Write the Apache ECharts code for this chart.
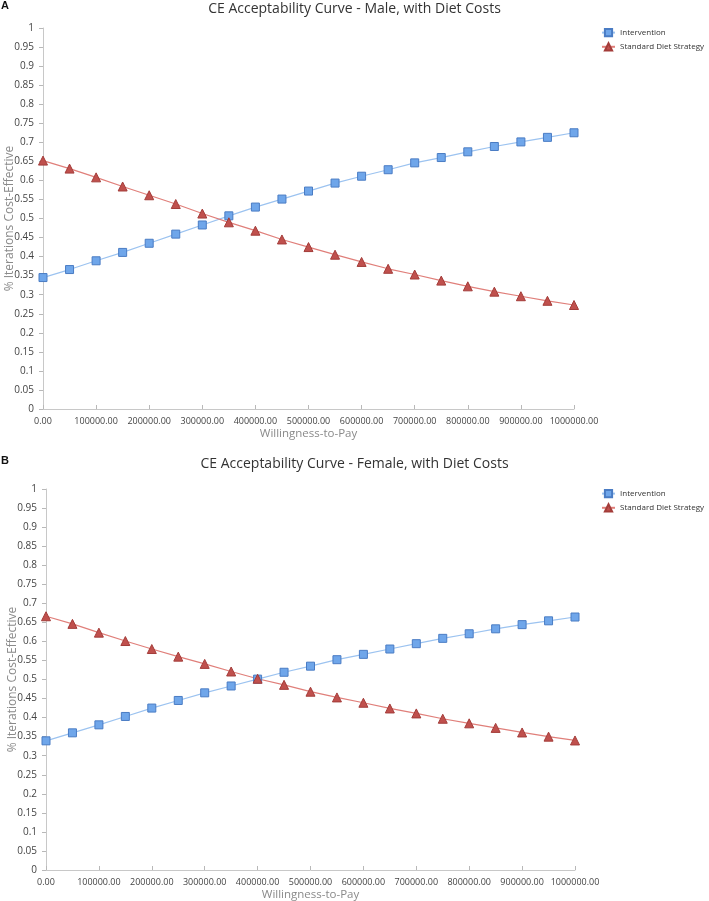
<!DOCTYPE html>
<html><head><meta charset="utf-8">
<script src="https://cdn.jsdelivr.net/npm/echarts@6/dist/echarts.min.js"></script>
<style>html,body{margin:0;padding:0;background:#fff}#c{width:709px;height:901px}</style>
</head><body><div id="c"></div>
<script>
const wtp = [0,50000,100000,150000,200000,250000,300000,350000,400000,450000,500000,550000,600000,650000,700000,750000,800000,850000,900000,950000,1000000];
const xTickLabels = ['0.00','100000.00','200000.00','300000.00','400000.00','500000.00','600000.00','700000.00','800000.00','900000.00','1000000.00'];
const yTickLabels = ['0','0.05','0.1','0.15','0.2','0.25','0.3','0.35','0.4','0.45','0.5','0.55','0.6','0.65','0.7','0.75','0.8','0.85','0.9','0.95','1'];
const seriesNames = ['Intervention','Standard Diet Strategy'];
const titles = ['CE Acceptability Curve - Male, with Diet Costs','CE Acceptability Curve - Female, with Diet Costs'];
const panelLetters = ['A','B'];
const maleIntervention = [0.345,0.366,0.389,0.411,0.435,0.459,0.483,0.507,0.530,0.551,0.572,0.593,0.611,0.628,0.646,0.660,0.675,0.689,0.701,0.713,0.725];
const maleStandard = [0.652,0.631,0.608,0.584,0.561,0.538,0.513,0.490,0.468,0.445,0.425,0.405,0.386,0.368,0.353,0.337,0.322,0.308,0.296,0.284,0.273];
const femaleIntervention = [0.339,0.360,0.381,0.403,0.425,0.445,0.465,0.483,0.501,0.519,0.535,0.552,0.566,0.580,0.594,0.608,0.620,0.633,0.644,0.654,0.664];
const femaleStandard = [0.666,0.646,0.623,0.601,0.580,0.560,0.541,0.521,0.502,0.486,0.468,0.453,0.439,0.424,0.411,0.397,0.385,0.373,0.361,0.350,0.340];

const FONT = 'Open Sans';
const chart = echarts.init(document.getElementById('c'), null, {renderer:'canvas'});
const pair = (xs, ys) => xs.map((x,i)=>[x, ys[i]]);

const grids = [
  {left:43, top:28, width:531, height:381, outerBoundsMode:'none', containLabel:false},
  {left:46, top:489, width:529, height:381, outerBoundsMode:'none', containLabel:false}
];
function xAxis(i){
  return {gridIndex:i, type:'value', min:0, max:1000000, interval:100000, offset:4,
    name:'Willingness-to-Pay', nameLocation:'middle', nameGap:15, nameMoveOverlap:false,
    nameTextStyle:{color:'#8a8a8a', fontSize:11.5, fontFamily:FONT},
    axisLine:{show:true, lineStyle:{color:'#c8c8c8', width:1}},
    axisTick:{show:true, inside:true, length:4, lineStyle:{color:'#b8b8b8'}},
    axisLabel:{color:'#444', fontSize:9, fontFamily:FONT, margin:4, hideOverlap:false,
      formatter:v=>xTickLabels[Math.round(v/100000)]},
    splitLine:{show:false}};
}
function yAxis(i){
  return {gridIndex:i, type:'value', min:0, max:1, interval:0.05, offset:3,
    name:'% Iterations Cost-Effective', nameLocation:'middle', nameGap:24, nameRotate:90, nameMoveOverlap:false,
    nameTextStyle:{color:'#8a8a8a', fontSize:12, fontFamily:FONT},
    axisLine:{show:true, lineStyle:{color:'#c8c8c8', width:1}},
    axisTick:{show:true, length:4, lineStyle:{color:'#b8b8b8'}},
    axisLabel:{color:'#444', fontSize:10, fontFamily:FONT, margin:6,
      formatter:v=>yTickLabels[Math.round(v/0.05)]},
    splitLine:{show:false}};
}
function blue(i, data){
  return {name:seriesNames[0], type:'line', xAxisIndex:i, yAxisIndex:i, data:data,
    symbol:'rect', symbolSize:8, lineStyle:{color:'#9cc3f0', width:1.2},
    itemStyle:{color:'#6fa6ea', borderColor:'#4a7cc4', borderWidth:1}, z:3, animation:false};
}
function red(i, data){
  return {name:seriesNames[1], type:'line', xAxisIndex:i, yAxisIndex:i, data:data,
    symbol:'triangle', symbolSize:9, lineStyle:{color:'#e07f7a', width:1.2},
    itemStyle:{color:'#c0504d', borderColor:'#a33c39', borderWidth:1}, z:3, animation:false};
}
function legend(top){
  return {top:top, left:601, orient:'vertical', itemWidth:13, itemHeight:9, itemGap:5, padding:0,
    textStyle:{color:'#333', fontSize:8, fontFamily:FONT}, data:seriesNames, selectedMode:false};
}
chart.setOption({
  animation:false,
  title:[
    {text:titles[0], left:'center', top:2, padding:0, textStyle:{color:'#333', fontSize:14, fontWeight:'normal', fontFamily:FONT}},
    {text:titles[1], left:'center', top:457, padding:0, textStyle:{color:'#333', fontSize:14, fontWeight:'normal', fontFamily:FONT}},
    {text:panelLetters[0], left:1, top:0, padding:0, textStyle:{color:'#111', fontSize:11, fontWeight:'bold', fontFamily:'Liberation Sans'}},
    {text:panelLetters[1], left:1, top:455, padding:0, textStyle:{color:'#111', fontSize:11, fontWeight:'bold', fontFamily:'Liberation Sans'}}
  ],
  legend:[legend(28), legend(489)],
  grid:grids,
  xAxis:[xAxis(0), xAxis(1)],
  yAxis:[yAxis(0), yAxis(1)],
  series:[
    blue(0, pair(wtp, maleIntervention)), red(0, pair(wtp, maleStandard)),
    blue(1, pair(wtp, femaleIntervention)), red(1, pair(wtp, femaleStandard))
  ]
});
</script></body></html>
